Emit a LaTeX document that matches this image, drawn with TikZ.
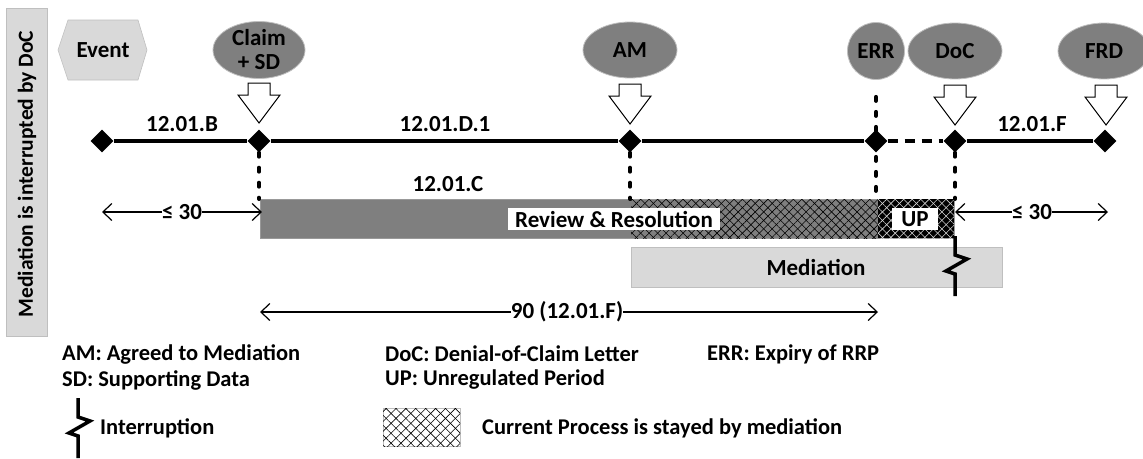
\documentclass[tikz,border=0pt]{standalone}
\usepackage{fontspec}
\setmainfont{Carlito}
\usetikzlibrary{shapes.geometric,arrows.meta,patterns.meta}

\definecolor{midgrey}{HTML}{7F7F7F}
\definecolor{lightgrey}{HTML}{D9D9D9}
\definecolor{edgegrey}{HTML}{BFBFBF}

\begin{document}
\begin{tikzpicture}[x=1pt,y=-1pt,
  font=\fontsize{23}{25}\selectfont\bfseries,
  event/.style={ellipse, fill=midgrey, draw=edgegrey, line width=0.8pt,
    inner sep=0pt, align=center, minimum height=56pt},
  milestone/.style={diamond, fill=black, inner sep=0pt,
    minimum width=23pt, minimum height=23pt},
  axis/.style={line width=4pt},
  tick/.style={line width=4pt, line cap=round, dash pattern=on 4pt off 11pt},
  gapline/.style={line width=4pt, dash pattern=on 10pt off 7pt},
  tip/.style={-{Straight Barb[length=9pt,width=17pt]}, line width=1.2pt},
  boxlabel/.style={fill=white, inner sep=0pt, minimum height=22pt},
  legend/.style={anchor=west, inner sep=0pt, font=\fontsize{22.5}{25}\selectfont\bfseries},
  stayed/.style={pattern={Lines[angle=45,distance=6pt,line width=0.6pt]}},
  stayedb/.style={pattern={Lines[angle=-45,distance=6pt,line width=0.6pt]}},
  blockarrow/.pic={
    \draw[fill=white, line width=1pt, line join=miter]
      (-11,0) -- (11,0) -- (11,12) -- (21,12) -- (0,40) -- (-21,12)
      -- (-11,12) -- cycle;},
  interrupt/.pic={
    \draw[line width=3.5pt, line join=miter, miter limit=10]
      (0,0) -- (0,19) -- (12,23) -- (-9,35) -- (0,38) -- (0,60);}
]
\useasboundingbox (0,0) rectangle (1143,458);

% side banner
\draw[fill=lightgrey, draw=edgegrey, line width=0.6pt] (6,8) rectangle (47,336);
\node[rotate=90, font=\fontsize{21.5}{25}\selectfont\bfseries] (banner) at (27,174)
  {Mediation is interrupted by DoC};

% key shape for events
\draw[fill=lightgrey, draw=edgegrey, line width=0.6pt]
  (58,50) -- (68,20) -- (138,20) -- (147,50) -- (138,80) -- (68,80) -- cycle;
\node (event) at (103,50) {Event};

% events
\node[event, minimum width=92pt] (claim) at (259,50) {Claim\\[-1pt]+ SD};
\node[event, minimum width=94pt] (am)    at (630,50) {AM};
\node[event, minimum width=57pt, minimum height=57pt] (err) at (876,51) {ERR};
\node[event, minimum width=94pt] (doc)   at (955,51) {DoC};
\node[event, minimum width=92pt] (frd)   at (1104,51) {FRD};

% block arrows
\pic at (259,83) {blockarrow};
\pic at (630,84) {blockarrow};
\pic at (955,85) {blockarrow};
\pic at (1106,85) {blockarrow};

% process bars
\node[fill=midgrey, draw=edgegrey!80!black, line width=0.6pt, anchor=north west,
  minimum width=694pt, minimum height=39pt, inner sep=0pt] (rr) at (260,199) {};
\fill[stayed, pattern color=black] (631,199) rectangle (878,238);
\fill[stayedb, pattern color=black] (631,199) rectangle (878,238);
\fill[black] (878,199) rectangle (954,238);
\fill[stayed, pattern color=lightgrey] (878,199) rectangle (954,238);
\fill[stayedb, pattern color=lightgrey] (878,199) rectangle (954,238);
\node[boxlabel, minimum width=212pt] (rrlabel) at (614,219) {Review \& Resolution};
\node[boxlabel, minimum width=46pt] (uplabel) at (915,219) {UP};

\node[fill=lightgrey, draw=edgegrey, line width=0.6pt, anchor=north west,
  minimum width=371pt, minimum height=40pt, inner sep=0pt] (med) at (631,247) {};
\node (medlabel) at (816,267) {Mediation};

% timeline
\node[milestone] (m0) at (102,141) {};
\node[milestone] (m1) at (259,141) {};
\node[milestone] (m2) at (630,141) {};
\node[milestone] (m3) at (876,141) {};
\node[milestone] (m4) at (955,141) {};
\node[milestone] (m5) at (1105,141) {};
\draw[axis] (m0) -- (m1);
\draw[axis] (m1) -- (m2);
\draw[axis] (m2) -- (m3);
\draw[gapline] (m3.east) -- (m4.west);
\draw[axis] (m4) -- (m5);

\node (lb) at (182,124) {12.01.B};
\node (ld) at (445,124) {12.01.D.1};
\node (lf) at (1032,124) {12.01.F};
\node (lc) at (448,184) {12.01.C};

% drop lines
\coordinate (errfoot) at ([yshift=-17pt]err.south);
\draw[tick] (m1.south) -- (m1.south |- rr.north);
\draw[tick] (m2.south) -- (m2.south |- rr.north);
\draw[tick] (errfoot) -- (errfoot |- rr.north);
\draw[tick] (m4.south) -- (m4.south |- rr.north);

% interruption of mediation
\pic at (955,236) {interrupt};

% spans
\coordinate (s1l) at (102,212);
\coordinate (s1r) at (262,212);
\node[inner sep=0pt] (s1) at (182,212) {≤ 30};
\draw[tip] (s1.west) -- (s1l);
\draw[tip] (s1.east) -- (s1r);

\coordinate (s2l) at (955,212);
\coordinate (s2r) at (1108,212);
\node[inner sep=0pt] (s2) at (1032,212) {≤ 30};
\draw[tip] (s2.west) -- (s2l);
\draw[tip] (s2.east) -- (s2r);

\coordinate (s3l) at (260,312);
\coordinate (s3r) at (878,312);
\node[inner sep=0pt] (s3) at (567,312) {90 (12.01.F)};
\draw[tip] (s3.west) -- (s3l);
\draw[tip] (s3.east) -- (s3r);

% legend
\node[legend] (k1) at (62,354) {AM: Agreed to Mediation};
\node[legend] (k2) at (62,380) {SD: Supporting Data};
\node[legend] (k3) at (385,354) {DoC: Denial-of-Claim Letter};
\node[legend] (k4) at (385,380) {UP: Unregulated Period};
\node[legend] (k5) at (707,354) {ERR: Expiry of RRP};
\pic at (78,398) {interrupt};
\node[legend] (k6) at (100,428) {Interruption};
\draw[draw=edgegrey, line width=0.6pt] (383,408) rectangle (460,446);
\fill[pattern={Lines[angle=45,distance=7pt,line width=0.6pt]}, pattern color=black]
  (383,408) rectangle (460,446);
\fill[pattern={Lines[angle=-45,distance=7pt,line width=0.6pt]}, pattern color=black]
  (383,408) rectangle (460,446);
\node[legend] (k7) at (482,428) {Current Process is stayed by mediation};
\end{tikzpicture}
\end{document}
